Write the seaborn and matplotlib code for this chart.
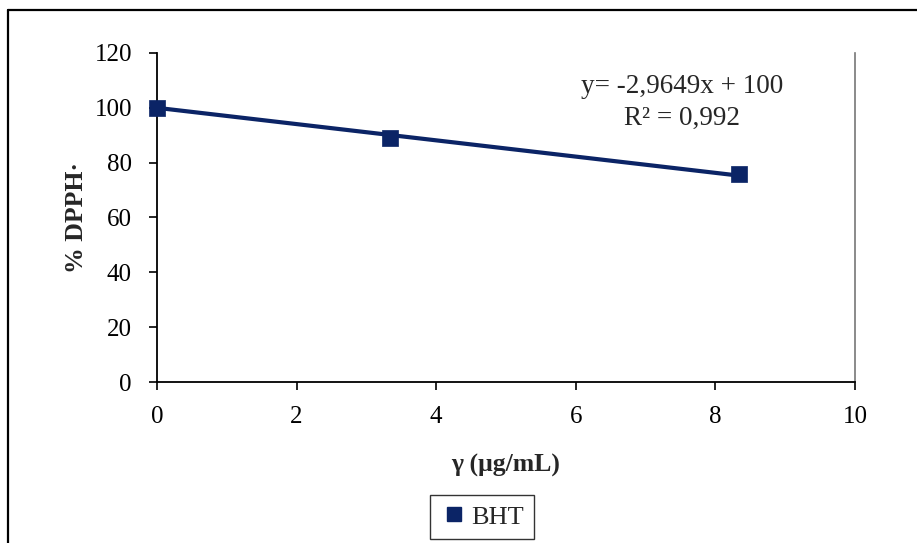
import matplotlib
matplotlib.use("Agg")
import matplotlib.pyplot as plt
import seaborn as sns
import numpy as np
import pandas as pd
from matplotlib.lines import Line2D

# Measured DPPH· remaining vs. BHT concentration
conc = [0.0, 3.34, 8.34]
dpph = [100.0, 89.0, 75.9]
series_name = "BHT"

# Linear trend line parameters
slope = -2.9649
intercept = 100.0
r_squared = 0.992

x_ticks = [0, 2, 4, 6, 8, 10]
y_ticks = [0, 20, 40, 60, 80, 100, 120]

sns.set_theme(style="white")
plt.rcParams["font.family"] = ["Liberation Serif", "DejaVu Serif"]

navy = "#0B2466"

fig = plt.figure(figsize=(9.17, 5.43), dpi=100)
ax = fig.add_axes([0.1712, 0.2965, 0.7612, 0.6059])

df = pd.DataFrame({"conc": conc, "dpph": dpph})
trend_x = np.array([min(conc), max(conc)])
trend = pd.DataFrame({"conc": trend_x, "dpph": slope * trend_x + intercept})

sns.lineplot(data=trend, x="conc", y="dpph", ax=ax, color=navy, lw=3.0, zorder=2)
sns.scatterplot(data=df, x="conc", y="dpph", ax=ax, marker="s", s=120,
                color=navy, edgecolor=navy, linewidth=0.5, zorder=3, clip_on=False)

ax.set_xlim(0, 10)
ax.set_ylim(0, 120)
ax.set_xticks(x_ticks)
ax.set_yticks(y_ticks)
ax.tick_params(axis="both", direction="out", length=6, width=1.2, colors="black",
               labelsize=18, left=True, bottom=True)
ax.tick_params(axis="x", pad=11)
ax.tick_params(axis="y", pad=12)

for side in ["left", "bottom"]:
    ax.spines[side].set_color("black")
    ax.spines[side].set_linewidth(1.3)
ax.spines["right"].set_color("#777777")
ax.spines["right"].set_linewidth(1.2)
ax.spines["top"].set_visible(False)
ax.grid(False)

ax.set_xlabel("γ (μg/mL)", fontsize=18.5, fontweight="bold", va="center", ha="center")
ax.set_ylabel("% DPPH·", fontsize=18.5, fontweight="bold", va="center", ha="center")
ax.xaxis.set_label_coords(0.5, -0.255)
ax.yaxis.set_label_coords(-0.116, 0.5)

ax.text(7.52, 107.6, f"y= {slope:.4f}x + {intercept:.0f}".replace(".", ","),
        fontsize=19.5, ha="center", va="center")
ax.text(7.52, 96.3, f"R² = {r_squared:.3f}".replace(".", ","),
        fontsize=19.5, ha="center", va="center")

handle = Line2D([], [], marker="s", linestyle="none", color=navy, markersize=9.5)
leg = fig.legend([handle], [series_name], loc="center", bbox_to_anchor=(0.5256, 0.048),
                 frameon=True, fancybox=False, fontsize=19, handletextpad=0.15,
                 handlelength=1.0, borderpad=0.4, borderaxespad=0)
leg.get_frame().set_edgecolor("black")
leg.get_frame().set_linewidth(1.0)

# Outer chart border (left and top edges)
fig.add_artist(Line2D([0.0085, 0.0085], [0.0, 0.982], transform=fig.transFigure,
                      color="black", lw=1.6))
fig.add_artist(Line2D([0.0085, 1.0], [0.982, 0.982], transform=fig.transFigure,
                      color="black", lw=1.6))

fig.savefig("out.png", dpi=100)
